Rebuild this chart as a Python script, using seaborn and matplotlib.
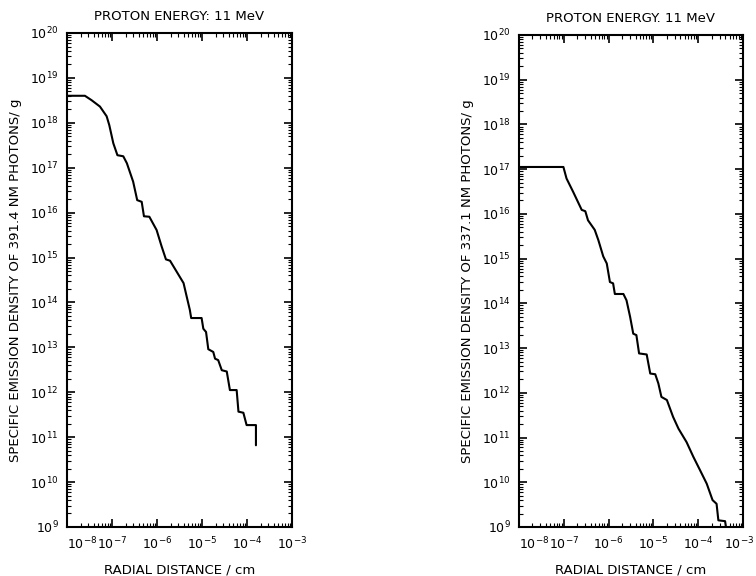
import numpy as np
import pandas as pd
import matplotlib
matplotlib.use("Agg")
import matplotlib.pyplot as plt
import matplotlib.ticker as mticker
import matplotlib.transforms as mtransforms
import seaborn as sns

# ---- data ----
left_x = [1e-8, 2.5e-8, 3.5e-8, 5.4e-8, 7.6e-8, 8.7e-8, 1.07e-7, 1.32e-7, 1.78e-7, 2.14e-7,
          2.95e-7, 3.63e-7, 4.57e-7, 5.13e-7, 6.76e-7, 9.8e-7, 1.26e-6, 1.58e-6, 1.95e-6,
          2.75e-6, 3.89e-6, 4.57e-6, 5.37e-6, 5.75e-6, 9.8e-6, 1.07e-5, 1.23e-5, 1.38e-5,
          1.78e-5, 1.95e-5, 2.29e-5, 2.75e-5, 3.55e-5, 4.17e-5, 5.89e-5, 6.46e-5, 8.3e-5,
          9.8e-5, 1.58e-4, 1.58e-4]
left_y = [4.0e18, 4.0e18, 3.2e18, 2.3e18, 1.4e18, 8.9e17, 3.5e17, 1.9e17, 1.8e17, 1.26e17,
          4.9e16, 1.9e16, 1.74e16, 8.3e15, 8.1e15, 4.1e15, 1.8e15, 9.1e14, 8.5e14,
          4.8e14, 2.7e14, 1.35e14, 6.8e13, 4.5e13, 4.5e13, 2.6e13, 2.2e13, 9.1e12,
          7.9e12, 5.6e12, 5.2e12, 3.1e12, 2.9e12, 1.12e12, 1.12e12, 3.7e11, 3.5e11,
          1.86e11, 1.86e11, 6.6e10]

right_x = [1e-8, 9.8e-8, 1.15e-7, 1.62e-7, 2.51e-7, 3.02e-7, 3.47e-7, 4.9e-7, 5.9e-7, 7.6e-7,
           9.1e-7, 1.07e-6, 1.26e-6, 1.38e-6, 2.14e-6, 2.51e-6, 3.02e-6, 3.55e-6, 4.17e-6,
           4.79e-6, 7.08e-6, 8.5e-6, 1.10e-5, 1.29e-5, 1.51e-5, 2.0e-5, 2.75e-5, 3.63e-5,
           5.5e-5, 7.8e-5, 1.10e-4, 1.55e-4, 2.09e-4, 2.57e-4, 2.82e-4, 3.98e-4, 4.17e-4]
right_y = [1.12e17, 1.12e17, 6.2e16, 3.1e16, 1.23e16, 1.15e16, 7.2e15, 4.4e15, 2.6e15, 1.12e15,
           7.8e14, 3.0e14, 2.8e14, 1.62e14, 1.62e14, 1.17e14, 5.0e13, 2.1e13, 1.95e13,
           7.6e12, 7.2e12, 2.7e12, 2.6e12, 1.62e12, 8.1e11, 6.9e11, 2.9e11, 1.58e11,
           7.9e10, 3.7e10, 1.86e10, 9.3e9, 4.0e9, 3.3e9, 1.41e9, 1.35e9, 1.0e9]

x_exps = [-8, -7, -6, -5, -4, -3]
y_exps = list(range(9, 21))
titles = ["PROTON ENERGY: 11 MeV", "PROTON ENERGY. 11 MeV"]
ylabels = ["SPECIFIC EMISSION DENSITY OF 391.4 NM PHOTONS/ g",
           "SPECIFIC EMISSION DENSITY OF 337.1 NM PHOTONS/ g"]
xlabel = "RADIAL DISTANCE / cm"

sns.set_style("ticks", {"axes.edgecolor": "black", "text.color": "black",
                        "axes.labelcolor": "black", "xtick.color": "black",
                        "ytick.color": "black"})
plt.rcParams["font.family"] = ["DejaVu Sans"]
plt.rcParams["font.size"] = 9
plt.rcParams["axes.linewidth"] = 1.5

fig = plt.figure(figsize=(7.56, 5.76), dpi=100)
axes = [fig.add_axes([67/756, 1-527/576, 225/756, 494/576]),
        fig.add_axes([519/756, 1-527/576, 224/756, 492/576])]

xmaj = [10.0 ** e for e in x_exps]
ymaj = [10.0 ** e for e in y_exps]
xmin = [m * 10.0 ** e for e in x_exps[:-1] for m in range(2, 10)]
ymin = [m * 10.0 ** e for e in y_exps[:-1] for m in range(2, 10)]
xlabs = [f"$10^{{{e}}}$" for e in x_exps]
ylabs_t = [f"$10^{{{e}}}$" for e in y_exps]

series = [(left_x, left_y), (right_x, right_y)]
for i, (ax, (xs, ys), title, ylab) in enumerate(zip(axes, series, titles, ylabels)):
    df = pd.DataFrame({"x": xs, "y": ys})
    sns.lineplot(data=df, x="x", y="y", ax=ax, sort=False, color="black",
                 linewidth=1.5, estimator=None)
    ax.set_xscale("log")
    ax.set_yscale("log")
    ax.set_xlim(1e-8, 1e-3)
    ax.set_ylim(1e9, 1e20)
    ax.set_xticks(xmaj, xlabs)
    ax.set_yticks(ymaj, ylabs_t)
    ax.set_xticks(xmin, minor=True)
    ax.set_yticks(ymin, minor=True)
    ax.xaxis.set_minor_formatter(mticker.NullFormatter())
    ax.yaxis.set_minor_formatter(mticker.NullFormatter())
    ax.tick_params(which="both", direction="in", top=True, right=True, color="black",
                   labelcolor="black", labelsize=9)
    ax.tick_params(which="major", length=6, width=1.2, pad=6)
    ax.tick_params(which="minor", length=3, width=0.8)
    ax.set_title(title, fontsize=9.5, pad=9, color="black")
    ax.set_xlabel(xlabel, fontsize=9.5, labelpad=8, color="black")
    ax.set_ylabel(ylab, fontsize=9.5, labelpad=6, color="black")
    xt = ax.get_xticklabels()
    xt[0].set_horizontalalignment("left")
    if i == 1:
        xt[-1].set_transform(xt[-1].get_transform() +
                             mtransforms.ScaledTranslation(-4/100, 0, fig.dpi_scale_trans))

fig.savefig("out.png", dpi=100)
